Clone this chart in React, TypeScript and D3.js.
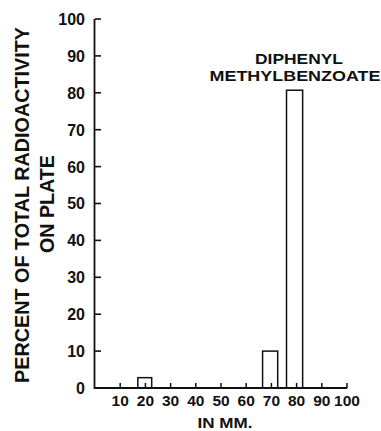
import React from "react";
import * as d3 from "d3";

const barStart = [17, 66.5, 76];
const barEnd = [22.5, 72.5, 82.4];
const barValues = [2.8, 10, 80.7];
const xTicks = [10, 20, 30, 40, 50, 60, 70, 80, 90, 100];
const yTicks = [0, 10, 20, 30, 40, 50, 60, 70, 80, 90, 100];
const yTitle = ["PERCENT OF TOTAL RADIOACTIVITY", "ON PLATE"];
const xTitle = "IN MM.";
const annotation = ["DIPHENYL", "METHYLBENZOATE"];

export default function App() {
  const W = 381, H = 431;
  const x = d3.scaleLinear().domain([0, 100]).range([95, 347]);
  const y = d3.scaleLinear().domain([0, 100]).range([388, 19]);
  const font = "'Liberation Sans', Arial, Helvetica, sans-serif";
  const col = "#111";
  return (
    <svg width={W} height={H} style={{ position: "absolute", left: 0, top: 0, background: "#fff" }}
      fontFamily={font} fontWeight="bold">
      <rect x={0} y={0} width={W} height={H} fill="#fff" />
      {/* bars */}
      {barValues.map((v, i) => (
        <rect key={i} x={x(barStart[i])} y={y(v)} width={x(barEnd[i]) - x(barStart[i])}
          height={y(0) - y(v)} fill="none" stroke={col} strokeWidth={1.5} />
      ))}
      {/* y axis */}
      <line x1={x(0) - 0.5} x2={x(0) - 0.5} y1={y(100)} y2={y(0) + 1} stroke={col} strokeWidth={1.8} />
      {yTicks.map((t) => (
        <g key={t}>
          {t > 0 && <line x1={x(0)} x2={x(0) + 6} y1={y(t)} y2={y(t)} stroke={col} strokeWidth={1.6} />}
          <text x={85} y={y(t)} dy="0.37em" textAnchor="end" fontSize={16} fill={col}>{t}</text>
        </g>
      ))}
      {/* x axis */}
      <line x1={x(0) - 1} x2={x(100)} y1={y(0)} y2={y(0)} stroke={col} strokeWidth={2} />
      {xTicks.map((t) => (
        <g key={t}>
          <line x1={x(t)} x2={x(t)} y1={y(0)} y2={y(0) - 5} stroke={col} strokeWidth={1.5} />
          <text x={x(t)} y={406} textAnchor="middle" fontSize={15.5} fill={col}>{t}</text>
        </g>
      ))}
      <text x={225} y={428} textAnchor="middle" fontSize={15} fill={col}
        textLength={55} lengthAdjust="spacingAndGlyphs">{xTitle}</text>
      {/* y title */}
      <text transform={`translate(28.5,205) rotate(-90)`} textAnchor="middle" fontSize={21} fill={col}
        textLength={356} lengthAdjust="spacingAndGlyphs">{yTitle[0]}</text>
      <text transform={`translate(53.5,204) rotate(-90)`} textAnchor="middle" fontSize={21} fill={col}
        textLength={98} lengthAdjust="spacingAndGlyphs">{yTitle[1]}</text>
      {/* annotation */}
      <text x={299} y={64} textAnchor="middle" fontSize={14} fill={col}
        textLength={88} lengthAdjust="spacingAndGlyphs">{annotation[0]}</text>
      <text x={295} y={81} textAnchor="middle" fontSize={14} fill={col}
        textLength={171} lengthAdjust="spacingAndGlyphs">{annotation[1]}</text>
    </svg>
  );
}
